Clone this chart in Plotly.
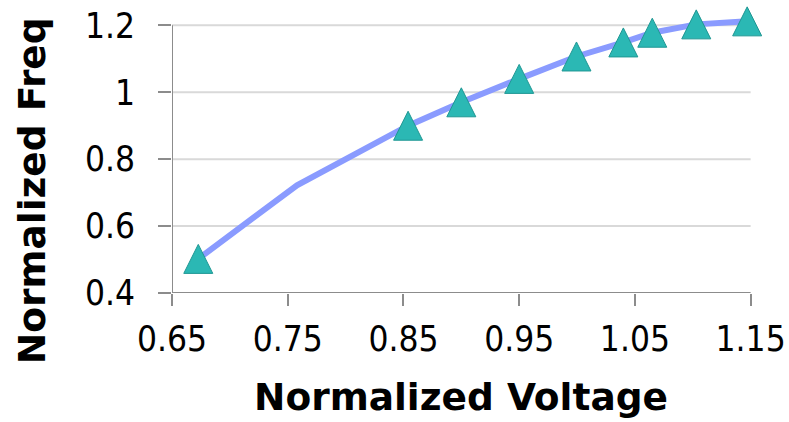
import plotly.graph_objects as go

# Frequency vs. voltage curve (normalized)
line_voltage = [0.6727, 0.758, 0.854, 0.900, 0.950, 0.9995, 1.040, 1.065, 1.103, 1.147]
line_freq = [0.502, 0.722, 0.900, 0.970, 1.040, 1.107, 1.149, 1.178, 1.203, 1.212]

# Measured operating points shown with markers
pt_voltage = [0.6727, 0.854, 0.900, 0.950, 0.9995, 1.040, 1.065, 1.103, 1.147]
pt_freq = [0.502, 0.900, 0.970, 1.040, 1.107, 1.149, 1.178, 1.203, 1.212]

x_ticks = [0.65, 0.75, 0.85, 0.95, 1.05, 1.15]
y_ticks = [0.4, 0.6, 0.8, 1.0, 1.2]

W, H = 789, 422
# the axes stop at the last tick, but the data area runs a little past it
# so markers sitting just above 1.2 / near 1.15 stay visible
X_HEAD, Y_HEAD = 0.015, 0.025
PX_PER_X = 579 / (x_ticks[-1] - x_ticks[0])
PX_PER_Y = 268 / (y_ticks[-1] - y_ticks[0])
L, B = 172, 129
R = W - L - PX_PER_X * (x_ticks[-1] - x_ticks[0] + X_HEAD)
T = H - B - PX_PER_Y * (y_ticks[-1] - y_ticks[0] + Y_HEAD)

TICK_FONT = dict(family="DejaVu Sans Condensed, DejaVu Sans", size=35, color="#000000")
TITLE_FONT = dict(family="DejaVu Sans", size=37.5, color="#000000")
AXIS_GREY = "#8c8c8c"
GRID_GREY = "#d9d9d9"

fig = go.Figure()
fig.add_trace(go.Scatter(
    x=line_voltage, y=line_freq, mode="lines",
    line=dict(color="#8a9bff", width=6),
    hoverinfo="skip",
))
fig.add_trace(go.Scatter(
    x=pt_voltage, y=pt_freq, mode="markers",
    marker=dict(symbol="arrow-down", angle=180, size=29, standoff=14.5,
                color="#2bb8b4", line=dict(color="#1f9793", width=1)),
    cliponaxis=False,
))

shapes = []
# horizontal grid lines, spanning the tick range only
for yv in y_ticks[1:]:
    shapes.append(dict(type="line", xref="x", yref="y", layer="below",
                       x0=x_ticks[0], x1=x_ticks[-1], y0=yv, y1=yv,
                       line=dict(color=GRID_GREY, width=2)))
# axis lines
shapes.append(dict(type="line", xref="x", yref="y", layer="below",
                   x0=x_ticks[0], x1=x_ticks[-1], y0=y_ticks[0], y1=y_ticks[0],
                   line=dict(color=AXIS_GREY, width=2)))
shapes.append(dict(type="line", xref="x", yref="y", layer="below",
                   x0=x_ticks[0], x1=x_ticks[0], y0=y_ticks[0], y1=y_ticks[-1],
                   line=dict(color=AXIS_GREY, width=2)))

fig.update_layout(
    width=W, height=H,
    margin=dict(l=L, r=R, t=T, b=B, pad=0),
    paper_bgcolor="#ffffff", plot_bgcolor="#ffffff",
    showlegend=False,
    shapes=shapes,
    xaxis=dict(
        range=[x_ticks[0], x_ticks[-1] + X_HEAD], automargin=False,
        tickvals=x_ticks, ticktext=[f"{v:g}" for v in x_ticks],
        showgrid=False, zeroline=False, showline=False,
        ticks="outside", ticklen=12, tickwidth=2, tickcolor=AXIS_GREY,
        tickfont=TICK_FONT, ticklabelstandoff=3,
    ),
    yaxis=dict(
        range=[y_ticks[0], y_ticks[-1] + Y_HEAD], automargin=False,
        tickvals=y_ticks, ticktext=[f"{v:g}" for v in y_ticks],
        showgrid=False, zeroline=False, showline=False,
        ticks="outside", ticklen=13, tickwidth=2, tickcolor=AXIS_GREY,
        tickfont=TICK_FONT, ticklabelstandoff=16,
    ),
    annotations=[
        dict(text="<b>Normalized Voltage</b>", xref="paper", yref="paper",
             x=0.5 * 579 / (579 + PX_PER_X * X_HEAD), y=-104 / (268 + PX_PER_Y * Y_HEAD),
             xanchor="center", yanchor="middle",
             showarrow=False, font=TITLE_FONT),
        dict(text="<b>Normalized Freq</b>", xref="paper", yref="paper",
             x=-140 / (579 + PX_PER_X * X_HEAD), y=102 / (268 + PX_PER_Y * Y_HEAD),
             xanchor="center", yanchor="middle",
             textangle=-90, showarrow=False, font=TITLE_FONT),
    ],
)

fig.write_html("out.html")
